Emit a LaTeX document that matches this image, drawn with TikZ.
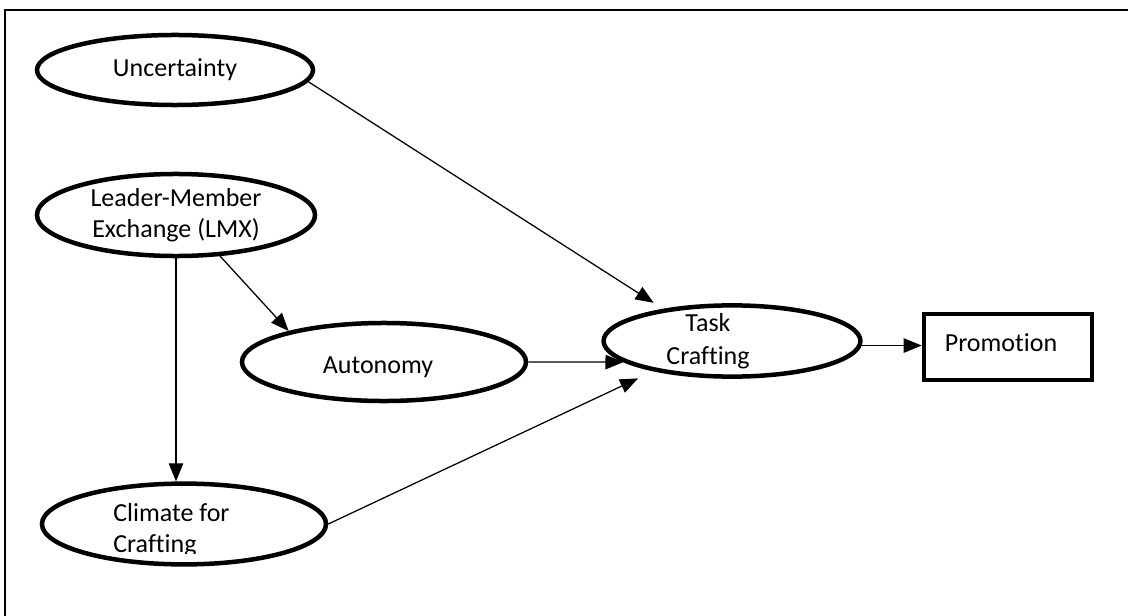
\documentclass[tikz,border=0pt]{standalone}
\usepackage{fontspec}
\setmainfont{Carlito}[Ligatures=NoCommon]
\usetikzlibrary{shapes.geometric,arrows.meta}
\begin{document}
\begin{tikzpicture}[x=0.025cm,y=-0.025cm,
    var/.style={draw,ellipse,line width=3.2pt,inner sep=0pt,align=center,font=\fontsize{18.5}{22}\selectfont},
    lbl/.style={inner sep=0pt,align=center,font=\fontsize{18.5}{22}\selectfont},
    arr/.style={-{Triangle[length=0.45cm,width=0.36cm]},line width=0.9pt}]
        \useasboundingbox (0,0) rectangle (1128,616);
        \draw[line width=1.5pt] (5,616) -- (5,10) -- (1128,10);
        % the variables
        \node[var,minimum width=6.9cm,minimum height=1.75cm] (unc) at (175,70) {Uncertainty};
        \node[var,minimum width=6.95cm,minimum height=2.05cm] (lmx) at (176,215) {Leader-Member\\Exchange (LMX)};
        \node[var,minimum width=7.1cm,minimum height=1.95cm] (aut) at (384,362) {};
        \node[lbl] (auttxt) at (378,367) {Autonomy};
        \node[var,minimum width=7.1cm,minimum height=2.02cm] (clim) at (184,524) {};
        \begin{scope}
            \clip (100,495) rectangle (340,553);
            \node[lbl,anchor=north west,align=left] (climtxt) at (113,503) {Climate for\\Crafting};
        \end{scope}
        \node[var,minimum width=6.42cm,minimum height=1.78cm] (task) at (732,341) {};
        \node[lbl,font=\fontsize{18.5}{23.4}\selectfont] (tasktxt) at (708,341) {Task\\Crafting};
        \node[draw,line width=3.2pt,minimum width=4.2cm,minimum height=1.65cm] (prom) at (1008,347) {};
        \node[lbl] (promtxt) at (1001,343) {Promotion};
        % the paths
        \draw[arr,shorten >=0.28cm] (unc.-5) -- (task.155);
        \draw[arr] (lmx.-43) -- (aut.162);
        \draw[arr] (lmx.south) -- (lmx.south |- clim.north);
        \draw[arr] (aut.east) -- (task.-169);
        \draw[arr,shorten >=0.42cm] (clim.east) -- (task.-159);
        \draw[arr] (task.-2.5) -- (task.-2.5 -| prom.west);
    \end{tikzpicture}
\end{document}
